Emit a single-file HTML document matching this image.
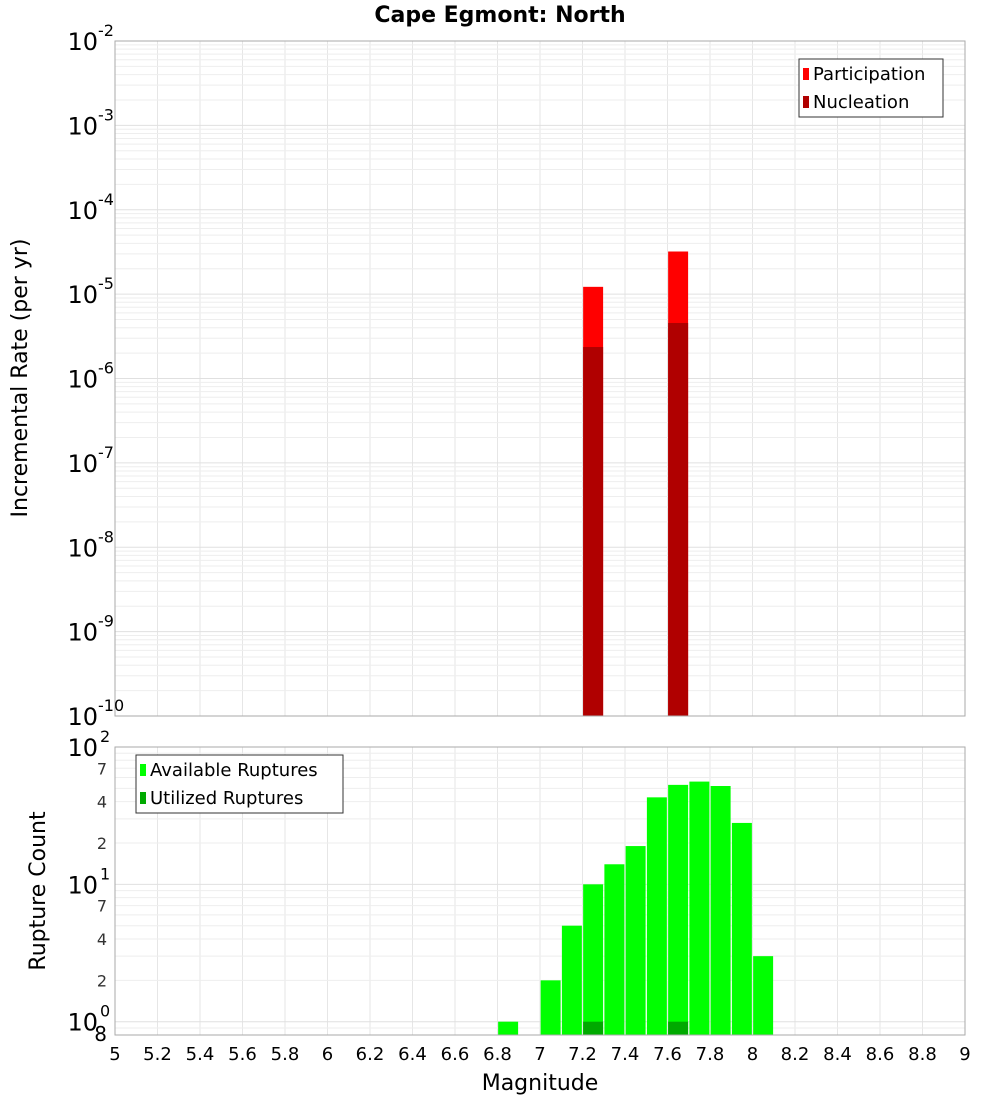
<!DOCTYPE html>
<html><head><meta charset="utf-8"><style>
body{margin:0;background:#fff;font-family:"Liberation Sans","DejaVu Sans",sans-serif;}
svg{display:block}
</style></head><body>
<svg id="chart" width="1000" height="1100" xmlns="http://www.w3.org/2000/svg" font-family="DejaVu Sans, Liberation Sans, sans-serif"></svg>
<script>
// Top panel data
const topMags = [7.25, 7.65];
const participation = [1.22e-5, 3.2e-5];
const nucleation = [2.36e-6, 4.55e-6];
// Bottom panel data
const botMags = [6.85, 7.05, 7.15, 7.25, 7.35, 7.45, 7.55, 7.65, 7.75, 7.85, 7.95, 8.05];
const available = [1, 2, 5, 10, 14, 19, 43, 53, 56, 52, 28, 3];
const utilMags = [7.25, 7.65];
const utilized = [1, 1];
const xTicks = [5,5.2,5.4,5.6,5.8,6,6.2,6.4,6.6,6.8,7,7.2,7.4,7.6,7.8,8,8.2,8.4,8.6,8.8,9];
const topDecades = [-2,-3,-4,-5,-6,-7,-8,-9,-10];

const NS="http://www.w3.org/2000/svg";
const svg=document.getElementById('chart');
function mk(tag,attrs,parent){const e=document.createElementNS(NS,tag);for(const k in attrs)e.setAttribute(k,attrs[k]);(parent||svg).appendChild(e);return e;}
const X0=115,X1=965;
const xs=m=>X0+(m-5)/(9-5)*(X1-X0);
const T0=41,T1=716;
const yTop=v=>T0+(-2-Math.log10(v))*(T1-T0)/8;
const B0=747,B1=1035;
const dec=(B1-B0)/(2-Math.log10(0.8));
const yBot=v=>B0+(2-Math.log10(v))*dec;
const BW=0.094;

// title
let t=mk('text',{x:500,y:22,'text-anchor':'middle','font-size':22,'font-weight':'bold'});
t.textContent='Cape Egmont: North';



// ---- grids
function grids(y0,y1,minE,maxE,yf,minV){
  for(const m of xTicks){mk('line',{x1:xs(m),x2:xs(m),y1:y0,y2:y1,stroke:'#e6e6e6'});}
  for(let e=minE;e<=maxE;e++){for(let k=1;k<10;k++){const v=k*Math.pow(10,e);if(v<minV||e===maxE&&k>1)continue;const y=yf(v);mk('line',{x1:X0,x2:X1,y1:y,y2:y,stroke:k===1?'#e0e0e0':'#eeeeee'});}}
}
grids(T0,T1,-10,-2,yTop,1e-10);
grids(B0,B1,-1,2,yBot,0.8);

// top bars
topMags.forEach((m,i)=>{
  const r=mk('rect',{x:xs(m-BW/2),y:yTop(participation[i]),width:xs(5+BW)-X0,height:T1-yTop(participation[i]),fill:'#ff0000'});
  
  
});
topMags.forEach((m,i)=>{
  const r=mk('rect',{x:xs(m-BW/2),y:yTop(nucleation[i]),width:xs(5+BW)-X0,height:T1-yTop(nucleation[i]),fill:'#b00000'});
  
  
});
// bottom bars
botMags.forEach((m,i)=>{
  const r=mk('rect',{x:xs(m-BW/2),y:yBot(available[i]),width:xs(5+BW)-X0,height:B1-yBot(available[i]),fill:'#00ff00'});
  
  
});
utilMags.forEach((m,i)=>{
  const r=mk('rect',{x:xs(m-BW/2),y:yBot(utilized[i]),width:xs(5+BW)-X0,height:B1-yBot(utilized[i]),fill:'#00aa00'});
  
  
});

// frames
let f=mk('rect',{x:X0,y:T0,width:X1-X0,height:T1-T0,fill:'none',stroke:'#aaa'});


f=mk('rect',{x:X0,y:B0,width:X1-X0,height:B1-B0,fill:'none',stroke:'#aaa'});



// top y labels
topDecades.forEach(e=>{
  const y=yTop(Math.pow(10,e));
  const g=mk('text',{x:98,y:y+9,'text-anchor':'end','font-size':24});
  g.textContent='10';
  
  
  const s=mk('text',{x:98,y:y-5,'font-size':16});
  s.textContent=String(e);
  
  
});
// bottom y labels
[2,1,0].forEach(e=>{
  const y=yBot(Math.pow(10,e));
  const g=mk('text',{x:98,y:y+9,'text-anchor':'end','font-size':24});
  g.textContent='10';
  
  
  const s=mk('text',{x:100,y:y-5,'font-size':16});
  s.textContent=String(e);
  
  
});
[[7,10],[4,10],[2,10],[7,1],[4,1],[2,1],[8,0.1]].forEach(([k,b])=>{
  const y=yBot(k*b);
  const s=mk('text',{x:107,y:y+6,'text-anchor':'end','font-size':k===8?20:16,fill:k===8?'#000':'#333'});
  s.textContent=String(k);
  
  
});
// x labels
xTicks.forEach(m=>{
  const s=mk('text',{x:xs(m),y:1060,'text-anchor':'middle','font-size':18});
  s.textContent=String(m);
  
  
});
// axis titles
t=mk('text',{x:540,y:1090,'text-anchor':'middle','font-size':22});
t.textContent='Magnitude';


t=mk('text',{x:0,y:0,'text-anchor':'middle','font-size':22,transform:'translate(27,378) rotate(-90)'});
t.textContent='Incremental Rate (per yr)';


t=mk('text',{x:0,y:0,'text-anchor':'middle','font-size':22,transform:'translate(45,891) rotate(-90)'});
t.textContent='Rupture Count';



// legends
function legend(x,y,w,items,name){
  const g=mk('g',{});
  
  
  mk('rect',{x:x,y:y,width:w,height:58,fill:'#fff',stroke:'#333'},g);
  items.forEach(([lab,col],i)=>{
    mk('rect',{x:x+4,y:y+9+i*28,width:6,height:12,fill:col},g);
    const s=mk('text',{x:x+14,y:y+21+i*28,'font-size':18},g);
    s.textContent=lab;
    
    
  });
}
legend(799,59,144,[['Participation','#ff0000'],['Nucleation','#b00000']],'top-legend');
legend(136,755,207,[['Available Ruptures','#00ff00'],['Utilized Ruptures','#00aa00']],'bottom-legend');
</script>
</body></html>
